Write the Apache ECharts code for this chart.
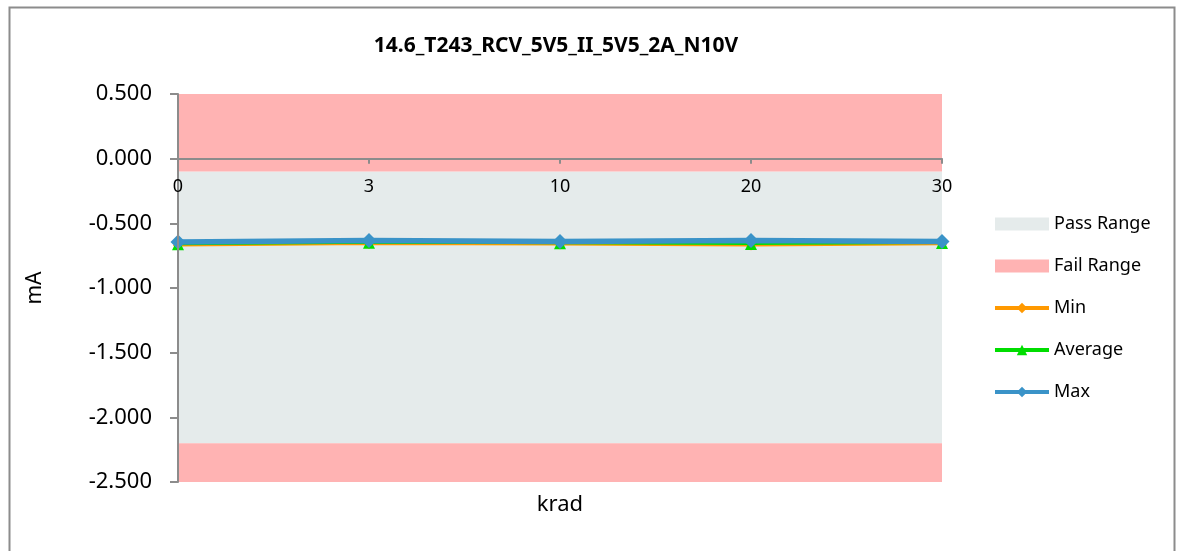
<!DOCTYPE html>
<html>
<head>
<meta charset="utf-8">
<script src="https://cdn.jsdelivr.net/npm/echarts@6/dist/echarts.min.js"></script>
<style>
  html, body { margin: 0; padding: 0; background: #ffffff; }
  #chart { width: 1179px; height: 551px; }
</style>
</head>
<body>
<div id="chart"></div>
<script>
// Dose steps (krad) along the x axis
const categories = ['0', '3', '10', '20', '30'];

// Measured current per dose step, mA
const minValues = [-0.672, -0.660, -0.664, -0.672, -0.662];
const avgValues = [-0.662, -0.650, -0.654, -0.660, -0.652];
const maxValues = [-0.645, -0.632, -0.640, -0.632, -0.640];

// Limits: pass band between lower and upper, fail outside up to the axis range
const passLimits = [-2.2, -0.1];
const axisRange = [-2.5, 0.5];
const yTicks = { interval: 0.5 };

const FONT = '"Noto Sans", "Open Sans", sans-serif';
const PASS_COLOR = '#E5EBEB';
const FAIL_COLOR = '#FFB3B3';

const GRID = { left: 178, right: 237, top: 94, bottom: 69 };
const CHART_H = 551;
// The category axis sits on the zero line of the value axis
const plotH = CHART_H - GRID.top - GRID.bottom;
const zeroFromBottom = (0 - axisRange[0]) / (axisRange[1] - axisRange[0]) * plotH;

const chart = echarts.init(document.getElementById('chart'), null, { renderer: 'canvas' });

chart.setOption({
  animation: false,
  backgroundColor: '#ffffff',
  textStyle: { fontFamily: FONT },
  title: {
    text: '14.6_T243_RCV_5V5_II_5V5_2A_N10V',
    left: 551,
    top: 31,
    textAlign: 'center',
    textStyle: { fontFamily: FONT, fontSize: 21, fontWeight: 'bold', color: '#000000' }
  },
  graphic: [{
    type: 'rect',
    shape: { x: 9.5, y: 7.5, width: 1165, height: 560 },
    style: { fill: 'none', stroke: '#8c8c8c', lineWidth: 2 },
    silent: true
  }],
  legend: {
    orient: 'vertical',
    left: 988,
    top: 210,
    itemWidth: 54,
    itemHeight: 13,
    itemGap: 24,
    textStyle: { fontFamily: FONT, fontSize: 18, color: '#000000' },
    data: [
      { name: 'Pass Range', icon: 'rect', itemStyle: { color: PASS_COLOR } },
      { name: 'Fail Range', icon: 'rect', itemStyle: { color: FAIL_COLOR } },
      { name: 'Min', lineStyle: { width: 4 } },
      { name: 'Average', lineStyle: { width: 4 } },
      { name: 'Max', lineStyle: { width: 4 } }
    ]
  },
  grid: GRID,
  xAxis: {
    type: 'category',
    data: categories,
    boundaryGap: false,
    position: 'bottom',
    offset: -zeroFromBottom,
    z: 10,
    name: 'krad',
    nameLocation: 'middle',
    nameGap: zeroFromBottom + 12,
    nameTextStyle: { fontFamily: FONT, fontSize: 22, color: '#000000' },
    axisLine: { onZero: false, lineStyle: { color: '#8c8c8c', width: 2 } },
    axisTick: { show: true, alignWithLabel: true, length: 5, lineStyle: { color: '#8c8c8c', width: 2 } },
    axisLabel: { fontFamily: FONT, fontSize: 18, color: '#000000', margin: 19 },
    splitLine: { show: false }
  },
  yAxis: {
    type: 'value',
    min: axisRange[0],
    max: axisRange[1],
    interval: yTicks.interval,
    z: 10,
    name: 'mA',
    nameLocation: 'middle',
    nameGap: 132,
    nameRotate: 90,
    nameTextStyle: { fontFamily: FONT, fontSize: 21, color: '#000000' },
    axisLine: { show: true, onZero: false, lineStyle: { color: '#8c8c8c', width: 2 } },
    axisTick: { show: true, length: 8, lineStyle: { color: '#8c8c8c', width: 2 } },
    axisLabel: {
      fontFamily: FONT, fontSize: 22, color: '#000000', margin: 26,
      formatter: v => v.toFixed(3)
    },
    splitLine: { show: false }
  },
  series: [
    {
      name: 'Pass Range',
      type: 'line',
      data: [],
      itemStyle: { color: PASS_COLOR },
      silent: true,
      z: 0,
      markArea: {
        silent: true,
        itemStyle: { color: PASS_COLOR },
        data: [[{ yAxis: passLimits[1] }, { yAxis: passLimits[0] }]]
      }
    },
    {
      name: 'Fail Range',
      type: 'line',
      data: [],
      itemStyle: { color: FAIL_COLOR },
      silent: true,
      z: 0,
      markArea: {
        silent: true,
        itemStyle: { color: FAIL_COLOR },
        data: [
          [{ yAxis: axisRange[1] }, { yAxis: passLimits[1] }],
          [{ yAxis: passLimits[0] }, { yAxis: axisRange[0] }]
        ]
      }
    },
    {
      name: 'Min',
      type: 'line',
      data: minValues,
      symbol: 'diamond',
      symbolSize: 10,
      color: '#FF9900',
      lineStyle: { color: '#FF9900', width: 2 },
      itemStyle: { color: '#FF9900' },
      z: 3
    },
    {
      name: 'Average',
      type: 'line',
      data: avgValues,
      symbol: 'triangle',
      symbolSize: 12,
      color: '#00DD00',
      lineStyle: { color: '#00DD00', width: 2 },
      itemStyle: { color: '#00DD00' },
      z: 4
    },
    {
      name: 'Max',
      type: 'line',
      data: maxValues,
      symbol: 'diamond',
      symbolSize: 15,
      color: '#3A93C8',
      lineStyle: { color: '#3A93C8', width: 5.5 },
      itemStyle: { color: '#3A93C8' },
      z: 5
    }
  ]
});
</script>
</body>
</html>
